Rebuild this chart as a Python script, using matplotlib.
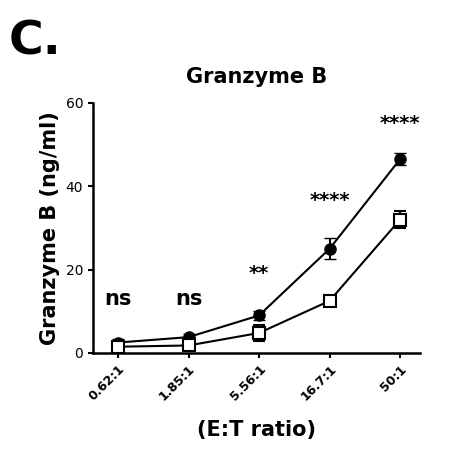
import matplotlib
matplotlib.use("Agg")
import matplotlib.pyplot as plt
import numpy as np

ratios = ["0.62:1", "1.85:1", "5.56:1", "16.7:1", "50:1"]
filled = [2.5, 3.8, 9.0, 25.0, 46.5]
filled_err = [0.8, 0.8, 1.0, 2.5, 1.5]
open_ = [1.5, 1.8, 4.8, 12.5, 32.0]
open_err = [0.5, 0.6, 2.0, 1.2, 2.0]
sig = ["ns", "ns", "**", "****", "****"]
sig_y = [13, 13, 19, 36.5, 55]

fig = plt.figure(figsize=(4.49, 4.70), dpi=100)
ax = fig.add_axes([0.207, 0.249, 0.728, 0.532])
x = np.arange(len(ratios))
ax.errorbar(x, filled, yerr=filled_err, color="black", marker="o", ms=8, lw=1.5,
            capsize=4, elinewidth=1.5)
ax.errorbar(x, open_, yerr=open_err, color="black", marker="s", ms=8, lw=1.5,
            mfc="white", mew=1.5, capsize=4, elinewidth=1.5)
for xi, s, yy in zip(x, sig, sig_y):
    fs = 15 if s == "ns" else 14
    ax.text(xi, yy, s, ha="center", va="center", fontsize=fs, fontweight="bold")
ax.set_xlim(-0.355, 4.28)
ax.set_ylim(0, 60)
ax.set_yticks([0, 20, 40, 60])
ax.set_xticks(x)
ax.set_xticklabels(ratios, rotation=45, ha="right", rotation_mode="anchor", fontsize=9, fontweight="bold")
ax.tick_params(axis="y", labelsize=10, width=1.5)
ax.tick_params(axis="x", width=1.5)
for s in ["top", "right"]:
    ax.spines[s].set_visible(False)
for s in ["left", "bottom"]:
    ax.spines[s].set_linewidth(1.8)
ax.set_ylabel("Granzyme B (ng/ml)", fontsize=15, fontweight="bold")
ax.set_xlabel("(E:T ratio)", fontsize=15, fontweight="bold", labelpad=12)
ax.set_title("Granzyme B", fontsize=15, fontweight="bold", pad=14)
fig.text(0.02, 0.885, "C.", fontsize=34, fontweight="bold")
fig.savefig("out.png", dpi=100)
